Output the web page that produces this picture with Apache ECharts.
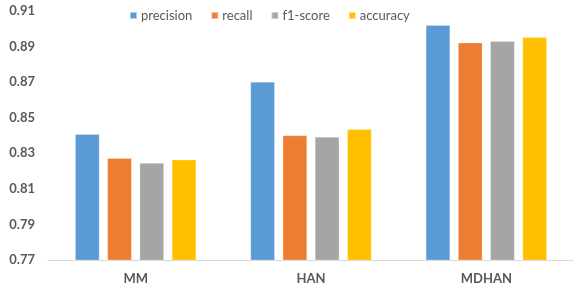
<!DOCTYPE html>
<html><head><meta charset="utf-8">
<script src="https://cdn.jsdelivr.net/npm/echarts@6/dist/echarts.min.js"></script>
<style>html,body{margin:0;padding:0;background:#fff}#c{width:574px;height:290px}</style>
</head><body><div id="c"></div>
<script>
var categories = ['MM', 'HAN', 'MDHAN'];
var seriesNames = ['precision', 'recall', 'f1-score', 'accuracy'];
var precision = [0.8407, 0.8701, 0.9020];
var recall = [0.8272, 0.8400, 0.8922];
var f1score = [0.8245, 0.8392, 0.8930];
var accuracy = [0.8264, 0.8435, 0.8952];
var yTicks = [0.77, 0.79, 0.81, 0.83, 0.85, 0.87, 0.89, 0.91];
var colors = ['#5B9BD5', '#ED7D31', '#A5A5A5', '#FFC000'];
var values = [precision, recall, f1score, accuracy];

var chart = echarts.init(document.getElementById('c'), null, {renderer: 'canvas'});
var series = seriesNames.map(function (n, i) {
  return {
    name: n, type: 'bar', data: values[i],
    barGap: '33%', barCategoryGap: '31%',
    itemStyle: {color: colors[i], borderColor: 'rgba(255,255,255,0.5)', borderWidth: 0.5},
    emphasis: {disabled: true}
  };
});
chart.setOption({
  animation: false,
  color: colors,
  textStyle: {fontFamily: 'Lato'},
  legend: {
    top: 4, left: 124, itemWidth: 7, itemHeight: 7, itemGap: 18,
    icon: 'rect',
    textStyle: {color: '#595959', fontSize: 13, fontFamily: 'Lato', padding: [0, 0, 0, -1]},
    data: seriesNames
  },
  grid: {left: 48, right: -5, top: 11, bottom: 30, containLabel: false},
  xAxis: {
    type: 'category', data: categories,
    axisLine: {lineStyle: {color: '#D9D9D9', width: 1}},
    axisTick: {show: false},
    axisLabel: {color: '#595959', fontSize: 13, fontWeight: 'bold', margin: 12, fontFamily: 'Lato'}
  },
  yAxis: {
    type: 'value', min: yTicks[0], max: yTicks[yTicks.length - 1], interval: 0.02,
    axisLine: {show: false}, axisTick: {show: false},
    splitLine: {show: false},
    axisLabel: {
      color: '#595959', fontSize: 13, fontWeight: 'bold', margin: 13, fontFamily: 'Lato',
      formatter: function (v) { return v.toFixed(2); }
    }
  },
  series: series
});
</script></body></html>
